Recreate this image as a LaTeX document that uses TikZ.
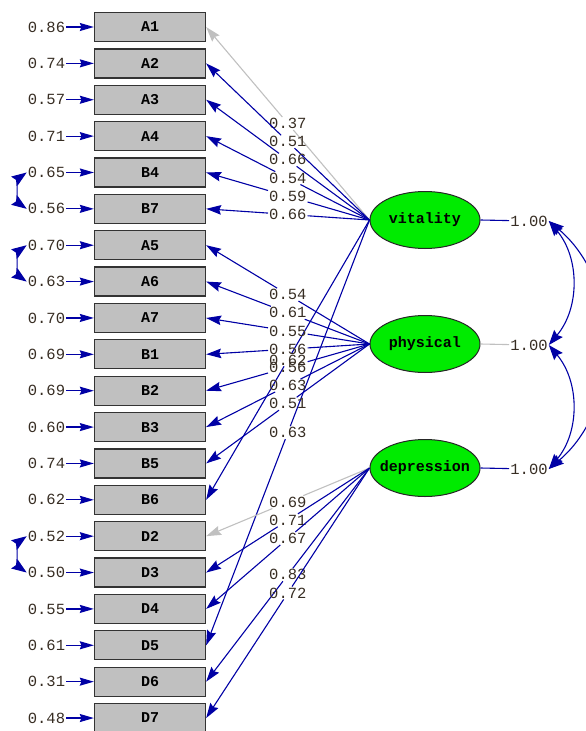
\documentclass[tikz,border=0pt]{standalone}
\usepackage{fontspec}
\setmonofont{Liberation Mono}
\usetikzlibrary{arrows.meta,shapes.geometric}
\definecolor{lblue}{RGB}{0,0,165}
\definecolor{lgray}{RGB}{192,192,192}
\definecolor{boxgray}{RGB}{192,192,192}
\definecolor{lgreen}{RGB}{0,235,0}
\definecolor{ntext}{RGB}{55,45,35}
\begin{document}
\begin{tikzpicture}[x=1pt,y=1pt,
  every node/.style={font=\ttfamily\fontsize{15.5}{16}\selectfont},
  obs/.style={draw=black!80, line width=1.3pt, fill=boxgray, minimum width=111pt, minimum height=29pt, inner sep=0pt, font=\ttfamily\bfseries\fontsize{15}{16}\selectfont},
  lat/.style={ellipse, draw=black!85, line width=1pt, fill=lgreen, minimum width=110pt, minimum height=57pt, inner sep=0pt, font=\ttfamily\bfseries\fontsize{15}{16}\selectfont},
  num/.style={text=ntext, inner sep=1pt},
  errarrow/.style={lblue, line width=1.2pt, -{Stealth[length=14pt,width=8pt,inset=1.5pt]}},
  loadarrow/.style={line width=1.1pt, -{Stealth[length=15pt,width=9.5pt,inset=2pt]}},
  covarrow/.style={lblue, line width=1.1pt, {Stealth[length=15pt,width=11pt,inset=2pt]}-{Stealth[length=15pt,width=11pt,inset=2pt]}}
]
\useasboundingbox (0,0) rectangle (586,-731);
\clip (0,0) rectangle (586,-731);

% observed variables and error variances
\foreach \n/\e [count=\i from 0] in {A1/0.86, A2/0.74, A3/0.57, A4/0.71, B4/0.65, B7/0.56, A5/0.70, A6/0.63, A7/0.70, B1/0.69, B2/0.69, B3/0.60, B5/0.74, B6/0.62, D2/0.52, D3/0.50, D4/0.55, D5/0.61, D6/0.31, D7/0.48} {
  \node[obs] (\n) at (150, {-27-36.37*\i}) {\n};
  \node[num] (e\n) at (46.5, {-27-36.37*\i}) {\e};
  \draw[errarrow] (e\n) -- (\n);
}

% latent variables
\node[lat] (vit) at (425,-220) {\makebox[60pt]{vitality}};
\node[lat] (phy) at (425,-344) {\makebox[60pt]{physical}};
\node[lat] (dep) at (425,-468) {\makebox[60pt]{depression}};

% loadings
\foreach \f/\b/\v/\c in {vit/A1/0.37/lgray, vit/A2/0.51/lblue, vit/A3/0.66/lblue, vit/A4/0.54/lblue, vit/B4/0.59/lblue, vit/B7/0.66/lblue, vit/B6/0.62/lblue, vit/D5/0.63/lblue,
  phy/A5/0.54/lblue, phy/A6/0.61/lblue, phy/A7/0.55/lblue, phy/B1/0.56/lblue, phy/B2/0.56/lblue, phy/B3/0.63/lblue, phy/B5/0.51/lblue,
  dep/D2/0.69/lgray, dep/D3/0.71/lblue, dep/D4/0.67/lblue, dep/D6/0.83/lblue, dep/D7/0.72/lblue} {
  \path (\f.west) -- (\b.east) node[num, pos=0.5] (L\b\f) {\v};
  \draw[\c, line width=1.1pt] (\f.west) -- (L\b\f);
  \draw[\c, loadarrow] (L\b\f) -- (\b.east);
}

% latent variances
\node[num] (vv) at (529,-221) {1.00};
\node[num] (pv) at (529,-345) {1.00};
\node[num] (dv) at (529,-469) {1.00};
\draw[lblue, line width=1.1pt] (vit.east) -- (vv);
\draw[lgray, line width=1.1pt] (phy.east) -- (pv);
\draw[lblue, line width=1.1pt] (dep.east) -- (dv);

% latent covariances
\draw[covarrow] (vv.east) to[out=-50,in=50] (pv.east);
\draw[covarrow] (pv.east) to[out=-50,in=50] (dv.east);
\draw[covarrow] (vv.east) to[out=-40,in=40] (dv.east);

% error covariances
\draw[covarrow] (eB4.west) to[out=215,in=145,looseness=0.8] (eB7.west);
\draw[covarrow] (eA5.west) to[out=215,in=145,looseness=0.8] (eA6.west);
\draw[covarrow] (eD2.west) to[out=215,in=145,looseness=0.8] (eD3.west);
\end{tikzpicture}
\end{document}
